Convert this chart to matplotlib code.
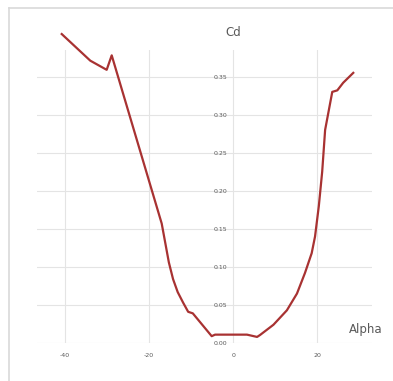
import matplotlib.pyplot as plt
from matplotlib.lines import Line2D

# Drag coefficient vs angle of attack
alpha = [-40.8, -34.0, -30.1, -28.9, -17.0, -16.2, -15.3, -14.3, -13.2, -11.9,
         -10.7, -9.6, -5.1, -4.3, 3.3, 5.7, 6.4, 9.6, 12.8, 15.2, 17.1, 18.7,
         19.5, 20.4, 21.2, 21.9, 23.6, 24.8, 26.2, 28.6]
cd = [0.406, 0.371, 0.359, 0.378, 0.157, 0.133, 0.106, 0.084, 0.067, 0.053,
      0.041, 0.039, 0.009, 0.011, 0.011, 0.008, 0.0105, 0.024, 0.043, 0.065,
      0.092, 0.118, 0.140, 0.180, 0.225, 0.280, 0.330, 0.332, 0.342, 0.355]

xticks = [-40, -20, 0, 20]
yticks = [0.00, 0.05, 0.10, 0.15, 0.20, 0.25, 0.30, 0.35]

fig = plt.figure(figsize=(3.93, 3.81), dpi=100)
ax = fig.add_axes([0.094, 0.0997, 0.853, 0.769])

ax.plot(alpha, cd, color='#a83232', lw=1.6, clip_on=False, zorder=3,
        solid_joinstyle='round')

ax.set_xlim(-46.7, 33.1)
ax.set_ylim(0, 0.385)
ax.set_xticks(xticks)
ax.set_yticks(yticks)
ax.set_xticklabels([str(t) for t in xticks])
ax.set_yticklabels([f'{t:.2f}' for t in yticks])
ax.grid(True, color='#e4e4e4', lw=0.8)
ax.set_axisbelow(True)

for s in ax.spines.values():
    s.set_visible(False)
ax.spines['left'].set_position(('data', 0))
ax.tick_params(axis='both', length=0, labelsize=4.5, labelcolor='#595959')
ax.tick_params(axis='x', pad=7)
ax.tick_params(axis='y', pad=4)

fig.text(233 / 393, 1 - 33 / 381, 'Cd', ha='center', va='center',
         fontsize=8.5, color='#595959')
fig.text(366 / 393, 1 - 330 / 381, 'Alpha', ha='center', va='center',
         fontsize=8.5, color='#595959')

# outer chart frame (top and left edges visible)
fig.add_artist(Line2D([9 / 393, 1], [1 - 8 / 381, 1 - 8 / 381],
                      transform=fig.transFigure, color='#d9d9d9', lw=1.2))
fig.add_artist(Line2D([9 / 393, 9 / 393], [1 - 8 / 381, 0],
                      transform=fig.transFigure, color='#d9d9d9', lw=1.2))

fig.savefig('out.png', dpi=100)
